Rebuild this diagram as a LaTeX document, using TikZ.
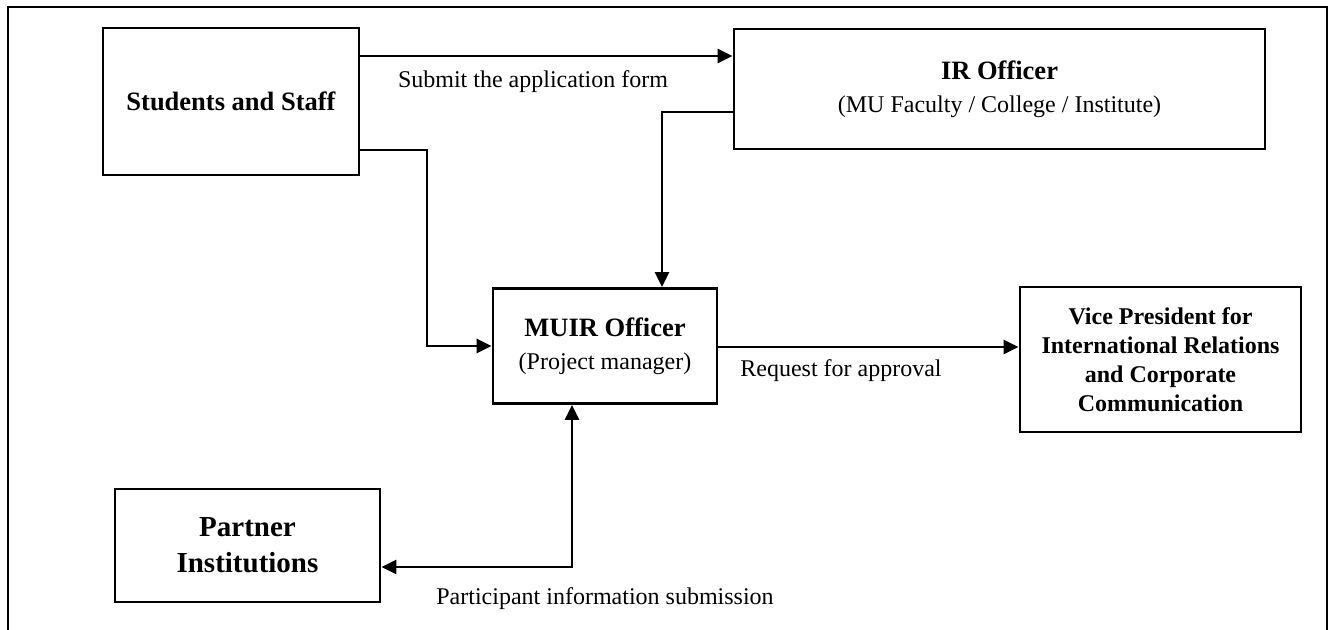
\documentclass[tikz,border=0pt]{standalone}
\usepackage{fontspec}
\setmainfont{Liberation Serif}
\usetikzlibrary{arrows.meta}
\newcommand{\hd}[1]{{\fontsize{26.5}{32}\selectfont\bfseries #1}}

\begin{document}
\begin{tikzpicture}[x=1pt, y=-1pt,
      every node/.style={font=\fontsize{24}{33}\selectfont},
      box/.style={rectangle, draw, line width=2.8pt, inner sep=0pt, align=center},
      arrow/.style={-{Triangle[length=15pt, width=14pt]}, line width=2.4pt},
      dblarrow/.style={{Triangle[length=15pt, width=14pt]}-{Triangle[length=15pt, width=14pt]}, line width=2.4pt},
      lbl/.style={inner sep=0pt}
    ]
      \useasboundingbox (0,0) rectangle (1329,629);
      \draw[line width=2.6pt] (8,640) -- (8,7) -- (1327,7) -- (1327,640);

      \node[box, minimum width=256pt, minimum height=147pt] (stud) at (231,101.5) {\hd{Students and Staff}};
      \node[box, minimum width=531pt, minimum height=120pt] (ir) at (999.5,89) {\hd{IR Officer}\\(MU Faculty / College / Institute)};
      \node[box, minimum width=224pt, minimum height=115pt] (muir) at (605,346) {\hd{MUIR Officer}\\(Project manager)};
      \node[box, minimum width=281pt, minimum height=145pt, font=\fontsize{24}{29}\selectfont\bfseries] (vp) at (1160.5,359.5) {Vice President for\\International Relations\\and Corporate\\Communication};
      \node[box, minimum width=265pt, minimum height=113pt, font=\fontsize{29}{36}\selectfont\bfseries] (partner) at (247.5,545.5) {Partner\\Institutions};

      \node[lbl] (submit) at (533,82) {Submit the application form};
      \node[lbl] (request) at (841,371) {Request for approval};
      \node[lbl] (info) at (605,599) {Participant information submission};

      \draw[arrow] (stud.east |- 0,56) -- (ir.west |- 0,56);
      \draw[arrow] (stud.east |- 0,150) -- (427,150) |- (muir.west);
      \draw[arrow] (ir.west |- 0,112) -| ([xshift=57pt]muir.north);
      \draw[arrow] (muir.east |- 0,347) -- (vp.west |- 0,347);
      \draw[dblarrow] ([xshift=-33pt]muir.south) |- ([yshift=-21.5pt]partner.east);
    \end{tikzpicture}
\end{document}
